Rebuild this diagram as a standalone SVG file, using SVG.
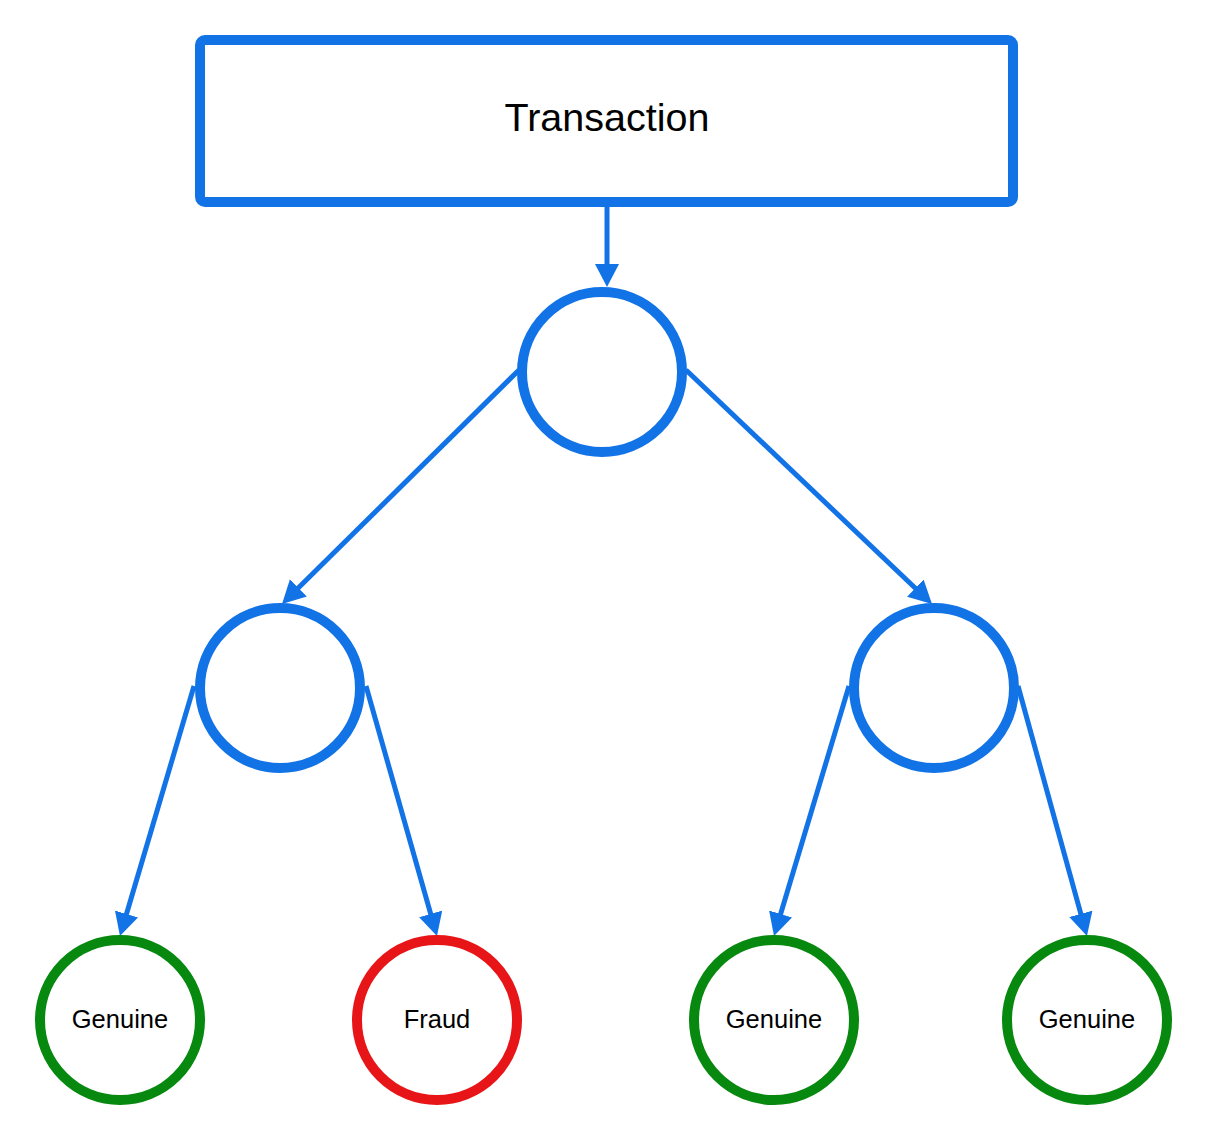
<svg xmlns="http://www.w3.org/2000/svg" width="1207" height="1141" viewBox="0 0 1207 1141">
<style>
.box{fill:#fff;stroke:#1273e6;stroke-width:10}
.blue{fill:#fff;stroke:#1273e6;stroke-width:10}
.green{fill:#fff;stroke:#07880f;stroke-width:10}
.red{fill:#fff;stroke:#e81518;stroke-width:10}
.edge{fill:none;stroke:#1273e6;stroke-width:5}
.lbl{font-family:"Liberation Sans",Arial,sans-serif;fill:#000;text-anchor:middle}
</style>
<defs>
<marker id="ah" markerUnits="userSpaceOnUse" markerWidth="26" markerHeight="26" refX="7" refY="12" orient="auto">
<path d="M0,0 L23,12 L0,24 z" fill="#1273e6"/>
</marker>
</defs>
<rect width="1207" height="1141" fill="#fff"/>
<g id="connectors">
<path class="edge" d="M607,207 L607,271" marker-end="url(#ah)"/>
<path class="edge" d="M519,370 L293.4,592.8" marker-end="url(#ah)"/>
<path class="edge" d="M686,370 L920.4,593" marker-end="url(#ah)"/>
<path class="edge" d="M194,686 L124.5,920.7" marker-end="url(#ah)"/>
<path class="edge" d="M366,686 L432.6,920.6" marker-end="url(#ah)"/>
<path class="edge" d="M849,686 L778.6,920.7" marker-end="url(#ah)"/>
<path class="edge" d="M1018,686 L1082.7,920.6" marker-end="url(#ah)"/>
</g>
<g id="transaction">
<rect class="box" x="200" y="40" width="813" height="162" rx="5"/>
<text class="lbl" x="607" y="131" font-size="39.5">Transaction</text>
</g>
<g id="root"><circle class="blue" cx="602" cy="372" r="80"/></g>
<g id="left"><circle class="blue" cx="280" cy="688" r="80"/></g>
<g id="right"><circle class="blue" cx="934" cy="688" r="80"/></g>
<g id="genuine1"><circle class="green" cx="120" cy="1020" r="80"/><text class="lbl" x="120" y="1028" font-size="25.5">Genuine</text></g>
<g id="fraud"><circle class="red" cx="437" cy="1020" r="80"/><text class="lbl" x="437" y="1028" font-size="25.5">Fraud</text></g>
<g id="genuine2"><circle class="green" cx="774" cy="1020" r="80"/><text class="lbl" x="774" y="1028" font-size="25.5">Genuine</text></g>
<g id="genuine3"><circle class="green" cx="1087" cy="1020" r="80"/><text class="lbl" x="1087" y="1028" font-size="25.5">Genuine</text></g>
</svg>
